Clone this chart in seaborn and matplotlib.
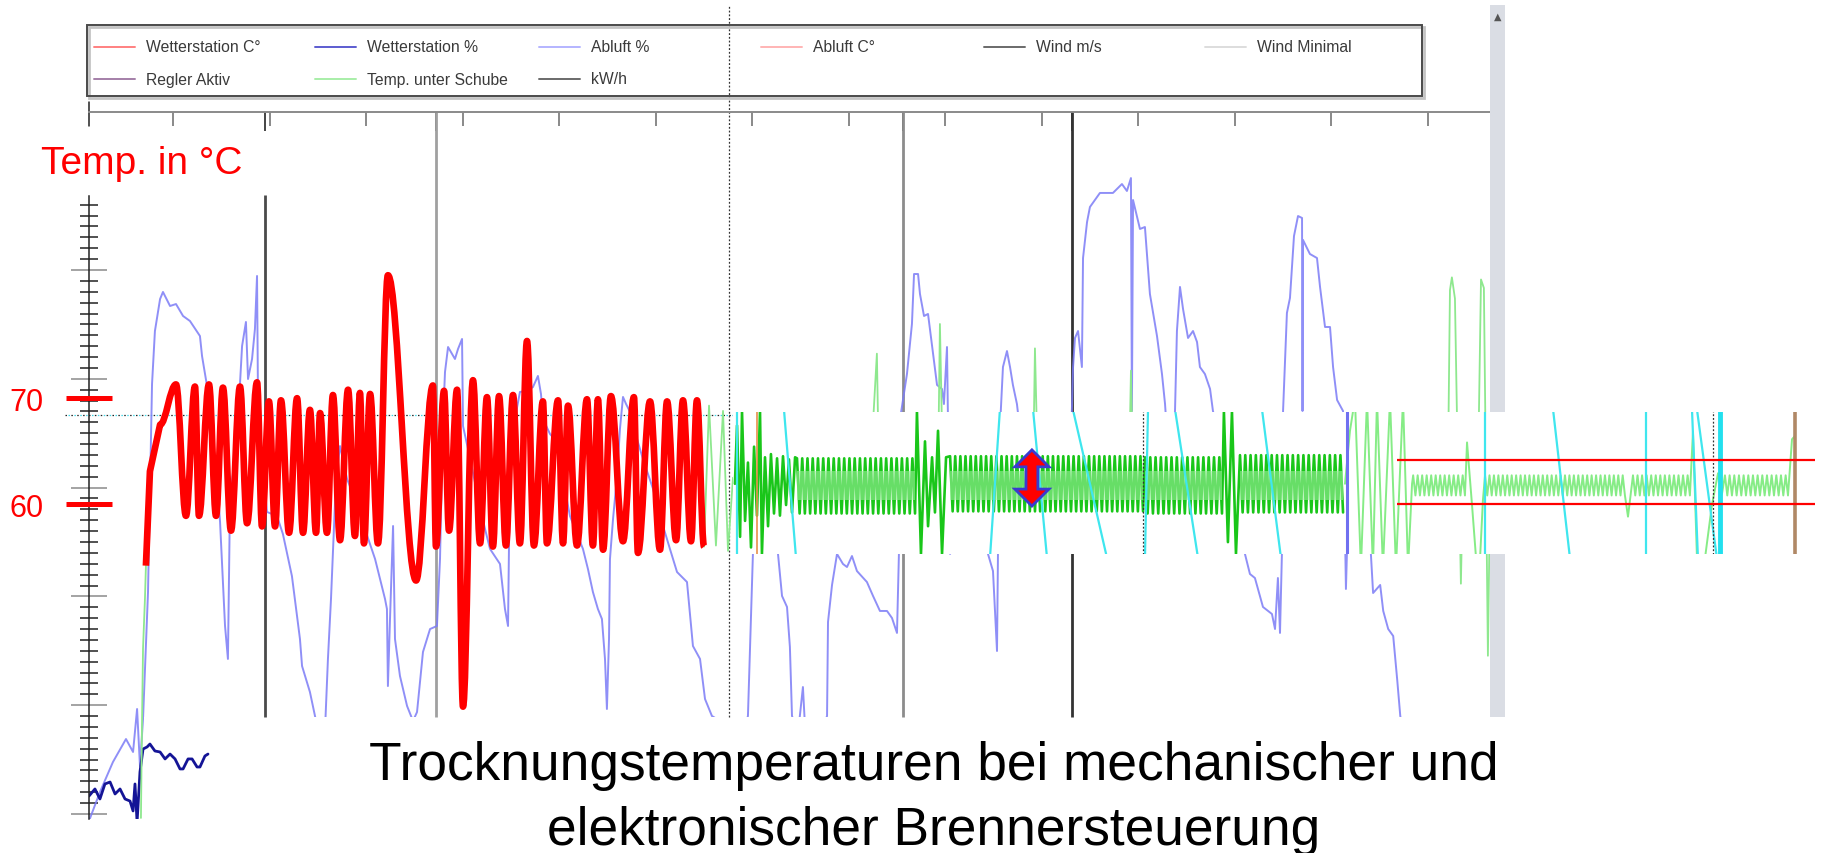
import numpy as np
import matplotlib
matplotlib.use("Agg")
import matplotlib.pyplot as plt
import matplotlib.patches as mpatches
from matplotlib.lines import Line2D
from matplotlib.path import Path
import seaborn as sns

sns.set_theme(style="white")
plt.rcParams["font.family"] = ["Liberation Sans", "DejaVu Sans"]

# ---------------- Daten ----------------
# mechanische Brennersteuerung: Trocknungstemperatur (Zeit in h, Wert in °C)
red_t = [3.54, 3.79, 4.42, 5.41, 6.03, 6.59, 6.84, 7.46, 7.90, 8.33, 8.83, 9.39, 9.83,
         10.45, 10.76, 11.19, 11.57, 11.94, 12.44, 12.94, 13.31, 13.74, 14.12, 14.37,
         14.80, 15.17, 15.61, 16.11, 16.54, 16.85, 17.10, 17.48, 17.97, 18.59, 20.34,
         21.39, 21.58, 22.08, 22.39, 22.89, 23.26, 23.88, 24.32, 24.75, 25.12, 25.50,
         25.93, 26.37, 26.80, 27.24, 27.67, 28.23, 28.48, 29.17, 29.48, 29.79, 30.35,
         30.97, 31.34, 31.65, 31.97, 32.46, 33.21, 33.89, 34.14, 34.89, 35.51, 35.95,
         36.51, 36.94, 37.44, 37.81, 38.25]
red_v = [54.2, 63.1, 67.5, 71.3, 58.9, 71.1, 58.9, 71.3, 58.9, 71.0, 57.5, 71.1, 58.2,
         71.5, 57.9, 69.7, 57.9, 69.8, 57.3, 70.0, 57.3, 68.9, 57.3, 68.6,
         57.3, 70.3, 56.6, 70.8, 57.0, 70.5, 56.3, 70.4, 56.3, 81.6, 52.8,
         71.2, 56.0, 70.7, 57.5, 70.8, 40.9, 71.7, 56.3, 70.1, 56.0, 70.2,
         56.1, 70.3, 56.3, 75.4, 56.1, 69.7, 56.3, 69.8, 56.3, 69.3, 56.1,
         69.9, 56.1, 69.9, 55.7, 70.2, 56.5, 70.1, 55.4, 69.7, 55.7, 69.7,
         56.6, 69.8, 56.5, 69.8, 56.0]

# Abluft % (Zeit in h, Wert in %)
abluft_t = [0.00, 0.68, 1.49, 2.30, 2.74, 2.99, 3.17, 3.36, 3.67, 3.92,
            4.10, 4.42, 4.60, 5.04, 5.41, 5.85, 6.28, 6.90, 7.03, 7.34,
            7.40, 7.84, 8.15, 8.46, 8.64, 8.77, 9.20, 9.52, 9.76, 9.89,
            10.14, 10.32, 10.45, 10.51, 10.76, 11.07, 11.69, 12.06, 12.62, 13.12,
            13.25, 13.74, 14.12, 14.68, 14.86, 15.05, 15.36, 15.61, 16.05, 16.54,
            17.16, 17.79, 18.41, 18.53, 18.59, 18.72, 18.91, 19.03, 19.34, 19.78,
            20.15, 20.40, 20.77, 21.21, 21.64, 21.83, 22.02, 22.14, 22.33, 22.58,
            22.76, 22.95, 23.20, 23.26, 23.57, 24.13, 24.63, 24.94, 25.56, 25.87,
            26.06, 26.18, 26.49, 26.80, 27.24, 27.61, 27.92, 28.11, 28.23, 28.67,
            29.10, 29.48, 29.91, 30.35, 30.72, 31.03, 31.34, 31.65, 31.90, 32.09,
            32.21, 32.34, 32.40, 32.59, 32.84, 33.02, 33.21, 33.40, 33.65, 34.08,
            34.45, 35.08, 35.70, 36.13, 36.57, 37.19, 37.56, 38.00, 38.31, 38.74,
            39.24,
            40.60, 40.98, 41.11, 41.29, 41.73, 42.85, 42.85, 43.10, 43.41, 43.59,
            43.72, 44.10, 44.40, 44.53, 45.50, 45.90, 45.96, 46.21, 46.52, 46.89,
            47.14, 47.45, 47.76, 48.38, 48.76, 49.19, 49.63, 49.94, 50.25, 50.37,
            50.44, 50.87, 51.18, 51.31, 51.56, 51.68, 51.93, 52.18, 52.49, 52.74,
            53.05, 53.17, 53.36, 53.42, 53.55, 55.72, 55.91, 56.22, 56.47, 56.53,
            56.65, 56.84, 57.09, 57.28, 57.46, 57.71, 57.89, 61.01, 61.20, 61.32,
            61.51, 61.75, 61.82, 62.07, 62.25, 62.87, 63.68, 64.24, 64.55, 64.80,
            64.86, 64.93, 65.36, 65.67, 65.98, 66.42, 66.73, 66.92, 67.23, 67.54,
            67.66, 67.85, 68.04, 68.35, 68.66, 68.91, 69.09, 69.40, 69.72, 69.90,
            70.96, 71.89, 72.20, 72.51, 73.01, 73.57, 73.76, 73.94, 74.07, 74.19,
            74.26, 74.50, 74.69, 74.94, 75.19, 75.44, 75.47, 75.50, 75.93, 76.37,
            76.56, 76.87, 77.18, 77.37, 77.62, 77.99, 78.17, 78.31, 78.62, 78.87,
            79.24, 79.68, 79.86, 80.30, 80.49, 80.80, 81.11, 81.36, 81.55, 81.67]
abluft_v = [-0.64, 2.02, 4.78, 6.89, 5.70, 9.65, 4.41, 8.73, 20.40, 39.52,
            44.39, 47.33, 47.98, 46.69, 46.87, 45.77, 45.31, 43.93, 42.09, 39.34,
            36.03, 32.90, 26.84, 17.28, 14.25, 28.95, 34.47, 43.01, 45.22, 39.98,
            41.82, 44.58, 49.45, 38.14, 32.63, 27.76, 27.39, 25.73, 21.87, 16.08,
            13.60, 11.21, 8.55, 7.81, 14.25, 19.76, 30.79, 33.82, 30.79, 28.95,
            26.19, 23.44, 19.76, 18.84, 11.76, 17.92, 26.47, 16.08, 12.68, 9.93,
            8.55, 9.37, 14.89, 17.00, 17.28, 23.44, 36.30, 40.62, 42.92, 42.28,
            41.82, 42.74, 43.66, 35.66, 33.55, 29.59, 26.19, 24.36, 22.98, 18.84,
            17.28, 31.98, 36.30, 38.79, 38.88, 39.24, 40.26, 38.60, 36.30, 34.93,
            34.19, 30.79, 27.39, 25.73, 24.36, 22.52, 20.40, 18.84, 17.92, 14.25,
            9.65, 16.08, 23.44, 27.11, 31.06, 35.38, 38.33, 37.68, 36.95, 34.47,
            32.63, 29.87, 26.47, 24.36, 22.24, 21.32, 15.44, 14.25, 10.57, 9.01,
            8.55,
            7.00, 9.01, 15.17, 23.90, 30.79, 30.79, 23.90, 20.04, 19.03, 15.35,
            9.01, 7.50, 11.67, 8.00, 7.50, 9.01, 17.65, 21.05, 23.90, 22.98,
            22.70, 23.71, 22.33, 21.32, 20.04, 18.66, 18.66, 18.01, 16.64, 23.90,
            36.30, 40.44, 45.04, 49.63, 49.63, 47.79, 45.77, 45.96, 42.37, 39.43,
            39.06, 37.68, 42.92, 36.30, 23.90, 30.79, 23.90, 22.33, 14.98, 23.90,
            35.38, 41.08, 42.55, 41.08, 39.43, 37.68, 35.38, 30.79, 41.08, 43.75,
            44.39, 41.08, 51.10, 54.41, 55.79, 57.08, 57.08, 57.90, 57.26, 58.45,
            37.04, 56.43, 53.77, 53.95, 47.79, 43.93, 40.44, 37.68, 30.79, 37.04,
            44.39, 48.44, 46.41, 43.75, 44.39, 43.38, 41.08, 40.44, 39.06, 37.04,
            30.79, 23.90, 22.06, 21.69, 19.03, 18.38, 17.00, 21.69, 16.64, 23.99,
            37.04, 46.05, 47.43, 53.12, 54.96, 54.78, 37.04, 52.76, 51.47, 51.10,
            48.44, 44.76, 44.76, 41.08, 38.05, 37.04, 20.68, 28.03, 27.67, 27.39,
            26.38, 25.00, 20.31, 21.05, 18.66, 17.00, 16.36, 12.32, 9.01, 8.00]

# Wetterstation % (unten links)
wetter_t = [0.00, 0.37, 0.68, 0.99, 1.31, 1.62, 1.93, 2.24, 2.55, 2.74, 2.86, 2.99, 3.11,
            3.17, 3.36, 3.61, 3.79, 4.10, 4.42, 4.73, 5.04, 5.35, 5.66, 5.85, 6.16,
            6.41, 6.72, 6.90, 7.21, 7.40]
wetter_v = [1.65, 2.30, 1.38, 2.76, 2.94, 1.84, 2.30, 1.38, 1.19, 0.28, 2.76, -0.74, 2.30,
            3.86, 5.97, 6.16, 6.43, 5.79, 5.70, 5.06, 5.51, 5.06, 4.14, 4.14, 5.06,
            5.06, 4.32, 4.32, 5.33, 5.51]

# Temp. unter Schube (°C)
schube_start_t = [3.23, 3.30, 3.36, 3.48, 3.54]
schube_start_v = [30.4, 39.8, 46.4, 51.1, 54.2]
schube_t = [38.25, 38.56, 38.99, 39.43, 39.74, 40.05, 48.57, 49.00, 49.13, 52.80, 52.92,
            53.11, 58.71, 58.83, 59.02, 64.68, 64.80, 64.93, 84.51, 84.64, 84.76, 84.95,
            85.07, 85.20, 85.32, 85.45, 86.38, 86.57, 86.75, 86.88, 87.00, 87.13]
schube_v = [56.0, 69.3, 56.1, 68.8, 55.6, 62.5, 62.5, 74.2, 62.5, 62.5, 77.0,
            62.5, 62.5, 74.7, 62.5, 62.5, 72.6, 62.5, 62.5, 80.2, 81.4, 79.4,
            68.8, 62.5, 52.5, 62.5, 62.5, 81.2, 80.4, 62.5, 45.7, 60.6]

# Ereignislinien (h)
event_t = [10.95, 21.58, 50.62, 61.13]
event_top = [56.9, 64.52, 64.52, 64.52]
event_colors = ["#4a4a4a", "#a0a0a0", "#8c8c8c", "#333333"]

# elektronische Steuerung (Ausschnitt, Zeit in h ab Ausschnittbeginn)
band_a_t = [0.12, 0.25, 0.44, 0.56, 0.75, 0.93, 1.12, 1.31, 1.49, 1.68, 1.80, 1.99,
            2.18, 2.36, 2.55, 2.74, 2.92, 3.11, 3.30, 3.48, 3.67, 3.86]
band_a_v = [62.0, 67.5, 57.0, 68.8, 58.5, 64.0, 56.0, 65.5, 59.0, 68.8, 55.4, 64.5,
            58.0, 64.8, 59.2, 64.4, 59.0, 64.6, 60.0, 64.3, 59.3, 64.5]
band_c_t = [11.44, 11.69, 11.94, 12.13, 12.38, 12.56, 12.75, 13.00, 13.25]
band_c_v = [68.8, 55.4, 66.0, 58.0, 64.5, 59.3, 67.0, 55.4, 64.5]
band_f_t = [30.53, 30.78, 31.03, 31.28]
band_f_v = [68.8, 56.5, 68.8, 55.4]
run_start = [3.98, 13.50, 25.62, 31.53]
run_end = [11.32, 25.50, 30.41, 37.94]
run_cycles = [23, 38, 15, 20]
run_hi = [64.4, 64.6, 64.5, 64.7]
run_lo = [59.2, 59.4, 59.2, 59.3]
run_mid_hi, run_mid_lo = 63.2, 60.5

light_h_t = [38.06, 38.37, 38.68, 39.05, 39.43, 39.80, 40.05, 40.42, 40.86, 41.23,
             41.67, 41.98, 42.23]
light_h_v = [62.0, 67.0, 70.0, 54.0, 70.0, 54.0, 70.0, 54.0, 70.0, 54.0, 70.0, 54.0, 62.0]
small_start = [42.30, 46.77, 55.97, 61.69]
small_end = [45.52, 55.47, 59.51, 65.61]
small_cycles = [12, 32, 13, 14]
small_hi, small_lo = 62.8, 60.9
small_gap_t = [[45.65, 45.96, 46.21, 46.46, 46.64], [55.66],
               [59.70, 59.95, 60.45, 60.88, 61.26, 61.50], [65.86, 66.04]]
small_gap_v = [[65.9, 60.0, 55.0, 55.0, 60.5], [58.9],
               [66.9, 55.0, 55.0, 60.0, 63.0, 61.0], [66.2, 66.5]]

cyan_top = [0.25, 3.17, 16.60, 18.66, 21.14, 25.81, 27.49, 32.90, 46.77, 51.00,
            56.78, 59.64, 59.95, 61.38]
cyan_bot = [0.25, 3.92, 15.98, 19.53, 23.26, 25.62, 28.92, 34.08, 46.77, 52.05,
            56.78, 60.01, 61.19, 61.38]
limit_v = [64.25, 60.1]
arrow_t, arrow_lo, arrow_hi = 18.59, 59.9, 65.2

legend_labels = ["Wetterstation C°", "Regler Aktiv", "Wetterstation %", "Temp. unter Schube",
                 "Abluft %", "kW/h", "Abluft C°", "Wind m/s", "Wind Minimal"]
legend_colors = ["#ff8080", "#a47fa8", "#5c5cd0", "#a8eea8", "#b4b4ff", "#6a6a6a",
                 "#ffb4b4", "#6a6a6a", "#dddddd"]

# ---------------- Figur ----------------
W, H = 1825, 854
fig = plt.figure(figsize=(W / 100, H / 100), dpi=100)


def fx(px):
    return px / W


def fy(py):
    return 1 - py / H


rect = [fx(89), fy(820), (1490 - 89) / W, (820 - 113) / H]
ax_p = fig.add_axes(rect)
ax = fig.add_axes(rect)
ax_p.set_zorder(1)
ax.set_zorder(2)
ax.patch.set_visible(False)

clip = mpatches.Polygon([(-1, -2), (3.45, -2), (3.45, 8.9), (90, 8.9), (90, 70), (-1, 70)],
                        closed=True, transform=ax_p.transData)

ax_p.vlines(event_t, 8.9, event_top, colors=event_colors, linewidth=2.0, zorder=1.5)
ax_p.plot([39.80, 39.80], [8.9, 74.4], ls=(0, (1.5, 1.5)), color="#333", lw=0.9, clip_on=False)
ax_p.plot([-1.49, 82.15], [36.67, 36.67], ls=(0, (1.2, 3.5)), color="#222", lw=0.9, clip_on=False)
ax_p.plot([-1.49, 82.15], [36.67, 36.67], ls=(2.3, (1.2, 3.5)), color="#40d8e8", lw=0.9,
          clip_on=False)

sns.lineplot(x=abluft_t, y=abluft_v, ax=ax_p, color="#7c7cf6", linewidth=1.4,
             sort=False, estimator=None, alpha=0.85)
ax_p.lines[-1].set_clip_path(clip)
sns.lineplot(x=wetter_t, y=wetter_v, ax=ax_p, color="#141496", linewidth=2.0,
             sort=False, estimator=None)

sns.lineplot(x=schube_start_t, y=schube_start_v, ax=ax, color="#8ee88e", linewidth=1.3,
             sort=False, estimator=None)
sns.lineplot(x=schube_t, y=schube_v, ax=ax, color="#8ee88e", linewidth=1.3,
             sort=False, estimator=None)

verts = [(red_t[0], red_v[0])]
codes = [Path.MOVETO]
for i in range(1, len(red_t)):
    if i <= 2:
        verts.append((red_t[i], red_v[i]))
        codes.append(Path.LINETO)
    else:
        dt = red_t[i] - red_t[i - 1]
        verts += [(red_t[i - 1] + 0.364 * dt, red_v[i - 1]),
                  (red_t[i] - 0.364 * dt, red_v[i]),
                  (red_t[i], red_v[i])]
        codes += [Path.CURVE4] * 3
ax.add_patch(mpatches.PathPatch(Path(verts, codes), fc="none", ec="#ff0000", lw=4.8,
                                joinstyle="round", capstyle="butt", zorder=3))

T_MAX = 87.13
for a in (ax_p, ax):
    a.set_xlim(0, T_MAX)
    a.set_xlabel("")
    a.set_ylabel("")
ax_p.set_ylim(-0.46, 64.52)
ax.set_ylim(30.3, 97.0)

# Skala oben und links
ax_p.spines["right"].set_visible(False)
ax_p.spines["bottom"].set_visible(False)
ax_p.spines["top"].set_color("#8a8a8a")
ax_p.spines["top"].set_linewidth(1.4)
ax_p.spines["left"].set_color("#222")
ax_p.spines["left"].set_linewidth(1.1)
ax_p.spines["left"].set_bounds(-0.46, 56.8)
ax_p.xaxis.tick_top()
ax_p.set_xticks(np.arange(5.25, T_MAX, 6))
ax_p.set_xticks(event_t, minor=True)
ax_p.tick_params(axis="x", which="major", top=True, bottom=False, direction="in",
                 length=10, width=1.1, color="#6a6a6a", labeltop=False, labelbottom=False)
ax_p.tick_params(axis="x", which="minor", top=True, bottom=False, direction="in",
                 length=14, width=1.4, color="#444")
ax_p.set_yticks(range(0, 51, 10))
ax_p.set_yticks([v for v in range(0, 57) if v % 10], minor=True)
ax_p.tick_params(axis="y", which="major", left=True, direction="inout", length=26,
                 width=1.1, color="#8a8a8a", labelleft=False)
ax_p.tick_params(axis="y", which="minor", left=True, direction="inout", length=13,
                 width=1.1, color="#222")
ax_p.plot([0, 0], [63.24, 65.44], color="#222", lw=1.1, clip_on=False)

for s in ax.spines.values():
    s.set_visible(False)
ax.set_yticks([60, 70])
ax.tick_params(axis="y", which="major", left=True, direction="inout", length=33, width=3.6,
               color="red", labelcolor="red", labelsize=22, pad=16.5)
ax.tick_params(axis="x", bottom=False, labelbottom=False)

# Ausschnitt elektronische Steuerung
bx = fig.add_axes([fx(733), fy(555), (1815 - 733) / W, (555 - 413) / H])
bx.set_zorder(5)
bx.set_facecolor("white")

band_t, band_v = list(band_a_t), list(band_a_v)
extras = [(band_c_t, band_c_v), ([], []), (band_f_t, band_f_v), ([], [])]
for i in range(4):
    band_t += list(np.linspace(run_start[i], run_end[i], 2 * run_cycles[i]))
    band_v += [run_hi[i], run_lo[i]] * run_cycles[i]
    band_t += extras[i][0]
    band_v += extras[i][1]
sns.lineplot(x=band_t, y=band_v, ax=bx, color="#19c619", linewidth=1.9,
             sort=False, estimator=None)
for i in range(4):
    bx.fill_between([run_start[i], run_end[i]], run_mid_lo, run_mid_hi,
                    color="#9cef9c", alpha=0.6, lw=0, zorder=2.5)

light_t, light_v = list(light_h_t), list(light_h_v)
for i in range(4):
    light_t += list(np.linspace(small_start[i], small_end[i], 2 * small_cycles[i]))
    light_v += [small_hi, small_lo] * small_cycles[i]
    light_t += small_gap_t[i]
    light_v += small_gap_v[i]
sns.lineplot(x=light_t, y=light_v, ax=bx, color="#86ec86", linewidth=1.4,
             sort=False, estimator=None)

for t0, t1 in zip(cyan_top, cyan_bot):
    bx.plot([t0, t1], [69.0, 55.0], color="#3fe6ee", lw=1.6, zorder=3)
bx.plot([61.38, 61.38], [69.0, 55.0], color="#22e0ee", lw=3.5, zorder=3)
bx.plot([38.18, 38.18], [69.0, 55.0], color="#7070f0", lw=2.2, zorder=3)
bx.plot([1.49, 1.49], [69.0, 55.0], color="#e8904a", lw=1.2, zorder=3)
bx.plot([66.04, 66.04], [69.0, 55.0], color="#b08866", lw=2.6, zorder=3)
for t in (25.50, 60.95):
    bx.plot([t, t], [69.0, 55.0], color="#333", lw=0.9, ls=(0, (1.5, 1.5)), zorder=3)
bx.hlines(limit_v, 41.29, 67.29, colors="red", linewidth=1.6, zorder=3)

# Doppelpfeil (Halbbreite Kopf 1.06 h, Schaft 0.37 h, Kopflänge 1.6 °C)
hw, sw, hl = 1.06, 0.37, 1.6
arrow_shape = [(arrow_t, arrow_hi), (arrow_t + hw, arrow_hi - hl), (arrow_t + sw, arrow_hi - hl),
               (arrow_t + sw, arrow_lo + hl), (arrow_t + hw, arrow_lo + hl), (arrow_t, arrow_lo),
               (arrow_t - hw, arrow_lo + hl), (arrow_t - sw, arrow_lo + hl),
               (arrow_t - sw, arrow_hi - hl), (arrow_t - hw, arrow_hi - hl)]
bx.add_patch(mpatches.Polygon(arrow_shape, closed=True, fc="#ff0000", ec="#3a3ad0",
                              lw=2.0, zorder=4))

bx.set_xlim(0, 67.29)
bx.set_ylim(55.38, 68.77)
bx.set_xticks([])
bx.set_yticks([])
bx.set_xlabel("")
bx.set_ylabel("")
for s in bx.spines.values():
    s.set_visible(False)

# Legende (Bildschirmkopie)
fig.add_artist(mpatches.Rectangle((fx(89), fy(99)), (1424 - 89) / W, (99 - 28) / H,
                                  transform=fig.transFigure, fc="none", ec="#c4c4c4",
                                  lw=2.0, zorder=3))
fig.add_artist(mpatches.Rectangle((fx(87), fy(97)), (1422 - 87) / W, (97 - 26) / H,
                                  transform=fig.transFigure, fc="none", ec="#4a4a4a",
                                  lw=1.4, zorder=4))
leg_col_x = [94, 315, 539, 761, 984, 1205]
leg_row_y = [48, 80]
leg_cols = [0, 0, 1, 1, 2, 2, 3, 4, 5]
leg_rows = [0, 1, 0, 1, 0, 1, 0, 0, 0]
for label, color, c, r in zip(legend_labels, legend_colors, leg_cols, leg_rows):
    x0, y0 = leg_col_x[c], leg_row_y[r]
    fig.add_artist(Line2D([fx(x0), fx(x0 + 41)], [fy(y0), fy(y0)],
                          transform=fig.transFigure, color=color, lw=1.4, zorder=4))
    fig.text(fx(x0 + 52), fy(y0), label, fontsize=11.3, color="#3a3a3a", va="center")

# Scrollbalken
fig.add_artist(mpatches.Rectangle((fx(1490), fy(718)), 15 / W, (718 - 6) / H,
                                  transform=fig.transFigure, fc="#dadde4", ec="none", zorder=3))
fig.text(fx(1498), fy(17), "▲", fontsize=7, color="#555", ha="center", va="center",
         family="DejaVu Sans")

fig.text(fx(41), fy(164), "Temp. in °C", color="red", fontsize=28, ha="left", va="center")
fig.text(fx(934), fy(766), "Trocknungstemperaturen bei mechanischer und", fontsize=38.3,
         color="black", ha="center", va="center", zorder=6)
fig.text(fx(934), fy(831), "elektronischer Brennersteuerung", fontsize=38.3,
         color="black", ha="center", va="center", zorder=6)

fig.savefig("out.png", dpi=100)
